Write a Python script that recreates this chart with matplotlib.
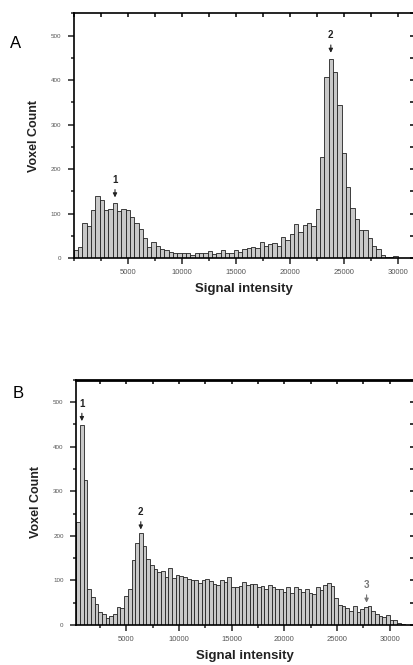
import numpy as np
import matplotlib
matplotlib.use('Agg')
import matplotlib.pyplot as plt
from matplotlib.ticker import MultipleLocator

plt.rcParams['font.family'] = ['Liberation Sans', 'DejaVu Sans']

# ---------------------------------------------------------------- data
# panel A: 400-wide bins starting at 0
a_start, a_width = 0, 400
a_counts = [18, 24, 79, 73, 109, 139, 130, 109, 110, 124, 106, 111, 108, 93, 79, 66, 44, 25, 37, 26,
            20, 18, 13, 12, 12, 12, 12, 7, 12, 12, 12, 15, 10, 12, 18, 12, 12, 18, 13, 20,
            22, 24, 23, 35, 27, 32, 33, 28, 47, 40, 55, 76, 59, 74, 78, 72, 111, 227, 407, 448,
            418, 343, 236, 160, 112, 87, 62, 62, 44, 26, 20, 7, 2, 2, 5]
a_peaks = [('1', 3824, 130), ('2', 23800, 455)]

# panel B: 350-wide bins starting at 250
b_start, b_width = 250, 350
b_counts = [231, 448, 326, 80, 62, 47, 30, 25, 15, 20, 25, 40, 38, 65, 80, 145, 185, 206, 177, 148,
            135, 125, 120, 122, 108, 128, 105, 113, 110, 107, 103, 102, 102, 95, 100, 103, 98, 92, 90, 100,
            97, 108, 85, 85, 88, 97, 90, 92, 92, 85, 88, 80, 90, 85, 80, 82, 75, 85, 72, 85,
            82, 75, 82, 72, 70, 85, 78, 90, 95, 88, 60, 45, 42, 38, 32, 42, 30, 35, 40, 43,
            32, 25, 20, 18, 23, 12, 12, 5, 3, 1]
b_peaks = [('1', 790, 451), ('2', 6380, 208), ('3', 27800, 44)]

x_ticks = [5000, 10000, 15000, 20000, 25000, 30000]
y_ticks = [0, 100, 200, 300, 400, 500]


def draw_panel(ax, start, width, counts, peaks, xlim):
    edges = start + width * np.arange(len(counts))
    ax.bar(edges, counts, width=width, align='edge', color='#c8c8c8', edgecolor='#222222', linewidth=0.6)
    ax.set_xlim(*xlim)
    ax.set_ylim(0, 550)
    ax.set_xticks(x_ticks)
    ax.set_yticks(y_ticks)
    ax.xaxis.set_minor_locator(MultipleLocator(2500))
    ax.yaxis.set_minor_locator(MultipleLocator(50))
    ax.tick_params(which='both', direction='out', top=False, right=False, width=1.1, colors='#222222',
                   labelcolor='#555555')
    ax.tick_params(which='major', length=4)
    ax.tick_params(which='minor', length=2.5)
    ax.tick_params(axis='x', labelsize=5.5, pad=4)
    ax.tick_params(axis='y', labelsize=4.5, pad=5)
    # inward ticks on top and right, like the original
    sec = ax.secondary_xaxis('top')
    sec.set_xticks(x_ticks)
    sec.xaxis.set_minor_locator(MultipleLocator(2500))
    sec.tick_params(which='both', direction='in', labeltop=False, width=1.1, length=3)
    sec.spines['top'].set_visible(False)
    sec2 = ax.secondary_yaxis('right')
    sec2.set_yticks(y_ticks)
    sec2.yaxis.set_minor_locator(MultipleLocator(50))
    sec2.tick_params(which='both', direction='in', labelright=False, width=1.1, length=3)
    sec2.spines['right'].set_visible(False)
    for s in ax.spines.values():
        s.set_linewidth(1.2)
    ax.set_xlabel('Signal intensity', fontsize=9.5, fontweight='bold', labelpad=5, color='#222222')
    ax.set_ylabel('Voxel Count', fontsize=9, fontweight='bold', labelpad=8, color='#222222')
    for label, x, y in peaks:
        col = '#777777' if label == '3' else '#222222'
        ax.annotate('', xy=(x, y), xytext=(x, y + 30),
                    arrowprops=dict(arrowstyle='-|>', color=col, lw=0.8, mutation_scale=6))
        ax.text(x, y + 34, label, ha='center', va='bottom', fontsize=7, fontweight='bold', color=col)


fig = plt.figure(figsize=(4.14, 6.65), dpi=100)
ax_a = fig.add_axes([0.178, 0.612, 0.822, 0.368])
ax_b = fig.add_axes([0.184, 0.060, 0.816, 0.369])
draw_panel(ax_a, a_start, a_width, a_counts, a_peaks, (0, 31500))
draw_panel(ax_b, b_start, b_width, b_counts, b_peaks, (250, 32300))
ax_b.spines['top'].set_linewidth(2.0)

fig.text(0.038, 0.935, 'A', fontsize=12, ha='center', va='center')
fig.text(0.045, 0.409, 'B', fontsize=12, ha='center', va='center')

fig.savefig('out.png', dpi=100)
